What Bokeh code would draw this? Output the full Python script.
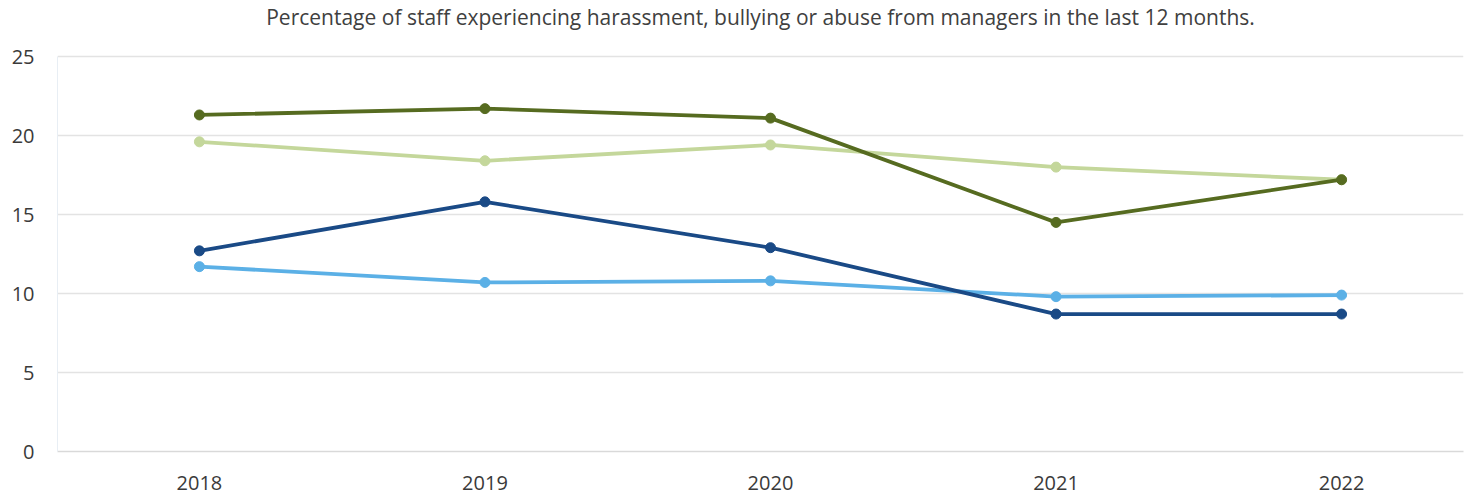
from bokeh.plotting import figure
from bokeh.models import FixedTicker, Range1d, Label
from bokeh.embed import file_html
from bokeh.resources import INLINE

years = ["2018", "2019", "2020", "2021", "2022"]
dark_green = [21.3, 21.7, 21.1, 14.5, 17.2]
light_green = [19.6, 18.4, 19.4, 18.0, 17.2]
dark_blue = [12.7, 15.8, 12.9, 8.7, 8.7]
light_blue = [11.7, 10.7, 10.8, 9.8, 9.9]
y_ticks = [0, 5, 10, 15, 20, 25]

title_text = "Percentage of staff experiencing harassment, bullying or abuse from managers in the last 12 months."

xs = list(range(len(years)))

# plot area: 0..25 spans 395px; extra headroom of 56px holds the title
px_per_unit = 395 / 25
y_top = 25 + 56 / px_per_unit

p = figure(width=1476, height=494, output_backend="svg", toolbar_location=None,
           x_range=Range1d(-0.497, 4.427), y_range=Range1d(0, y_top),
           min_border_left=57, min_border_right=13, min_border_top=0, min_border_bottom=43)

p.outline_line_color = None
p.background_fill_color = "white"
p.border_fill_color = "white"

series = [
    (light_green, "#c4d79b"),
    (light_blue, "#5bb0e6"),
    (dark_blue, "#1a4a86"),
    (dark_green, "#566b20"),
]
for vals, col in series:
    p.line(xs, vals, line_color=col, line_width=3.8)
    p.scatter(xs, vals, size=10, fill_color=col, line_color=col)

p.xaxis.ticker = FixedTicker(ticks=xs)
p.xaxis.major_label_overrides = {i: y for i, y in enumerate(years)}
p.yaxis.ticker = FixedTicker(ticks=y_ticks)
p.yaxis.bounds = (0, 25)

for ax in (p.xaxis[0], p.yaxis[0]):
    ax.major_tick_line_color = None
    ax.minor_tick_line_color = None
    ax.major_label_text_font = "Open Sans"
    ax.major_label_text_font_size = "20px"
    ax.major_label_text_color = "#3a3a3a"

p.xaxis.axis_line_color = "#d9d9d9"
p.xaxis.axis_line_width = 1.5
p.yaxis.axis_line_color = "#e8eef4"
p.xaxis.major_label_standoff = 18
p.yaxis.major_label_standoff = 17

p.xgrid.grid_line_color = None
p.ygrid.grid_line_color = "#e3e3e3"
p.ygrid.grid_line_width = 1.5

title = Label(x=(-0.497 + 4.427) / 2, y=25 + 40 / px_per_unit,
              text=title_text, text_align="center", text_baseline="middle",
              text_font="Open Sans", text_font_size="21px", text_color="#404040")
p.add_layout(title)

open("out.html", "w").write(file_html(p, INLINE))
